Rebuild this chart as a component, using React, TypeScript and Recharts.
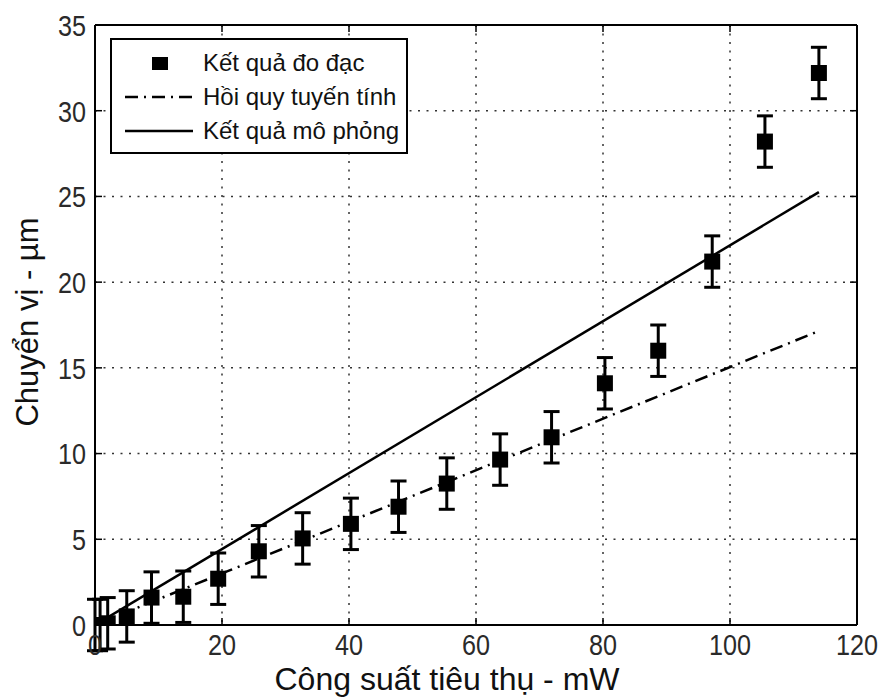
// Displacement vs. consumed power: measurements with error bars,
// linear regression and simulation result.

import {
  ComposedChart,
  Scatter,
  ErrorBar,
  XAxis,
  YAxis,
  CartesianGrid,
  ReferenceLine,
  Legend,
  Label,
} from "recharts";

const powerMw = [0, 0.8, 2, 5, 8.9, 13.9, 19.4, 25.8, 32.7, 40.3, 47.8, 55.4, 63.8, 71.9, 80.3, 88.7, 97.2, 105.5, 114];
const displacementUm = [0, 0, 0.1, 0.5, 1.6, 1.65, 2.7, 4.3, 5.05, 5.9, 6.9, 8.25, 9.65, 10.95, 14.1, 16.0, 21.2, 28.2, 32.2];
const errorUm = [1.5, 1.5, 1.5, 1.5, 1.5, 1.5, 1.5, 1.5, 1.5, 1.5, 1.5, 1.5, 1.5, 1.5, 1.5, 1.5, 1.5, 1.5, 1.5];

// end points of the two model lines
const regressionX = [0, 114];
const regressionY = [0, 17.15];
const simulationX = [0, 114];
const simulationY = [0, 25.25];

const xTicks = [0, 20, 40, 60, 80, 100, 120];
const yTicks = [0, 5, 10, 15, 20, 25, 30, 35];

const W = 882;
const H = 698;
const PLOT_LEFT = 95;
const PLOT_RIGHT = 857;
const PLOT_TOP = 25;
const PLOT_BOTTOM = 625;

const textFont = "'Liberation Sans', Arial, sans-serif";
// tick numbers are drawn condensed, like a narrow sans
const TICK_SIZE = 30;
const TICK_SQUEEZE = 0.84;

const measured = powerMw.map((x, i) => ({ x, y: displacementUm[i], err: errorUm[i] }));
const regression = regressionX.map((x, i) => ({ x, y: regressionY[i] }));
const simulation = simulationX.map((x, i) => ({ x, y: simulationY[i] }));

function TickText({ x, y, anchor, value }: { x: number; y: number; anchor: string; value: any }) {
  return (
    <text
      transform={`translate(${x} ${y}) scale(${TICK_SQUEEZE} 1)`}
      dy="0.36em"
      textAnchor={anchor}
      fontFamily={textFont}
      fontSize={TICK_SIZE}
      fill="#2a2a2a"
    >
      {value}
    </text>
  );
}

function XTick(props: any) {
  const { x, y, payload } = props;
  return (
    <g>
      <line x1={x} y1={y} x2={x} y2={y - 7} stroke="#000" strokeWidth={1.5} />
      <line x1={x} y1={PLOT_TOP} x2={x} y2={PLOT_TOP + 7} stroke="#000" strokeWidth={1.5} />
      <TickText x={x} y={y + 19} anchor="middle" value={payload.value} />
    </g>
  );
}

function YTick(props: any) {
  const { x, y, payload } = props;
  return (
    <g>
      <line x1={x} y1={y} x2={x + 7} y2={y} stroke="#000" strokeWidth={1.5} />
      <line x1={PLOT_RIGHT} y1={y} x2={PLOT_RIGHT - 7} y2={y} stroke="#000" strokeWidth={1.5} />
      <TickText x={x - 9} y={y} anchor="end" value={payload.value} />
    </g>
  );
}

function Square(props: any) {
  const { cx, cy } = props;
  return <rect x={cx - 8} y={cy - 8} width={16} height={16} fill="#000" />;
}

function NoMarker() {
  return <g />;
}

function LegendBox() {
  const row = { display: "flex", alignItems: "center", height: 34 } as const;
  const label = { marginLeft: 10, fontFamily: textFont, fontSize: 24, color: "#111", whiteSpace: "nowrap" } as const;
  return (
    <div
      style={{
        border: "2px solid #000",
        background: "#fff",
        padding: "6px 0 6px 11px",
        boxSizing: "border-box",
        width: 298,
        height: 116,
      }}
    >
      <div style={row}>
        <svg width={70} height={20}>
          <rect x={29} y={4} width={16} height={13} fill="#000" />
        </svg>
        <span style={label}>Kết quả đo đạc</span>
      </div>
      <div style={row}>
        <svg width={70} height={20}>
          <line x1={2} y1={10} x2={70} y2={10} stroke="#000" strokeWidth={2.5} strokeDasharray="13 6 2 6" />
        </svg>
        <span style={label}>Hồi quy tuyến tính</span>
      </div>
      <div style={row}>
        <svg width={70} height={20}>
          <line x1={2} y1={10} x2={70} y2={10} stroke="#000" strokeWidth={2.5} />
        </svg>
        <span style={label}>Kết quả mô phỏng</span>
      </div>
    </div>
  );
}

export default function App() {
  return (
    <div style={{ position: "absolute", left: 0, top: 0, width: W, height: H, background: "#fff" }}>
      <ComposedChart
        width={W}
        height={H}
        margin={{ top: PLOT_TOP, right: W - PLOT_RIGHT, bottom: 0, left: 0 }}
      >
        <CartesianGrid stroke="#333" strokeWidth={1.5} strokeDasharray="2 6.5" />
        <XAxis
          type="number"
          dataKey="x"
          domain={[0, 120]}
          ticks={xTicks}
          height={H - PLOT_BOTTOM}
          tickSize={0}
          tickMargin={0}
          tick={<XTick />}
          axisLine={{ stroke: "#000", strokeWidth: 2 }}
          allowDataOverflow
        >
          <Label
            content={() => (
              <text
                x={447}
                y={690}
                textAnchor="middle"
                fontFamily={textFont}
                fontSize={32}
                fill="#111"
              >
                Công suất tiêu thụ - mW
              </text>
            )}
          />
        </XAxis>
        <YAxis
          type="number"
          dataKey="y"
          domain={[0, 35]}
          ticks={yTicks}
          width={PLOT_LEFT}
          tickSize={0}
          tickMargin={0}
          tick={<YTick />}
          axisLine={{ stroke: "#000", strokeWidth: 2 }}
          allowDataOverflow
        >
          <Label
            content={() => (
              <text
                x={38}
                y={322}
                transform="rotate(-90 38 322)"
                textAnchor="middle"
                fontFamily={textFont}
                fontSize={31}
                fill="#111"
              >
                Chuyển vị - µm
              </text>
            )}
          />
        </YAxis>
        <ReferenceLine y={35} stroke="#000" strokeWidth={2} />
        <ReferenceLine x={120} stroke="#000" strokeWidth={2} />
        <Scatter
          name="Hồi quy tuyến tính"
          data={regression}
          fill="#000"
          shape={<NoMarker />}
          line={{ stroke: "#000", strokeWidth: 2.5, strokeDasharray: "13 6 2 6" }}
          isAnimationActive={false}
        />
        <Scatter
          name="Kết quả mô phỏng"
          data={simulation}
          fill="#000"
          shape={<NoMarker />}
          line={{ stroke: "#000", strokeWidth: 2.5 }}
          isAnimationActive={false}
        />
        <Scatter
          name="Kết quả đo đạc"
          data={measured}
          fill="#000"
          shape={<Square />}
          isAnimationActive={false}
        >
          <ErrorBar dataKey="err" direction="y" width={8} stroke="#000" strokeWidth={3} />
        </Scatter>
        <Legend
          layout="horizontal"
          verticalAlign="middle"
          align="center"
          content={() => <LegendBox />}
          wrapperStyle={{ left: 110, top: 38, width: 298, height: 116 }}
        />
      </ComposedChart>
    </div>
  );
}
